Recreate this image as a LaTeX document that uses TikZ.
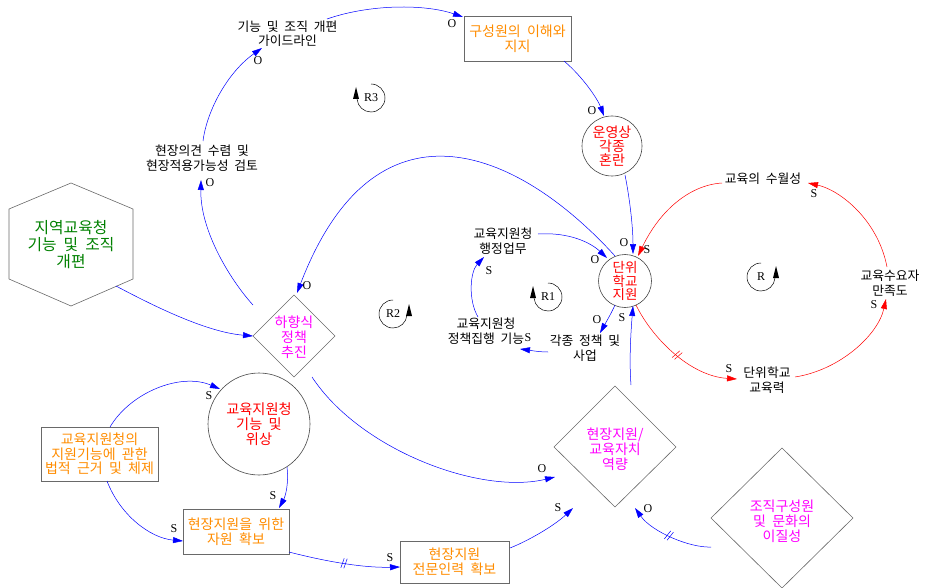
\documentclass[tikz,border=0pt]{standalone}
\usepackage{fontspec}
\setmainfont{Liberation Serif}
\newfontfamily\kr[WordSpace=2]{Noto Sans CJK KR}
\usetikzlibrary{arrows.meta,calc,decorations.markings}
\definecolor{korange}{RGB}{255,140,0}
\definecolor{kmag}{RGB}{255,0,255}
\definecolor{kgreen}{RGB}{0,128,0}
\definecolor{kred}{RGB}{255,0,0}
\definecolor{kblue}{RGB}{0,0,255}
\definecolor{kgray}{RGB}{105,105,105}
\definecolor{kdgray}{RGB}{70,70,70}
\begin{document}
\begin{tikzpicture}[x=1pt,y=-1pt,
  txt/.style={align=center,inner sep=1pt,font=\kr\fontsize{12.8}{14.5}\selectfont},
  ctxt/.style={align=center,inner sep=1pt,font=\kr\fontsize{14}{15}\selectfont},
  boxn/.style={ctxt,text=korange,draw=kgray,line width=0.6pt},
  circn/.style={ctxt,circle,draw=kdgray,line width=0.6pt,inner sep=0pt},
  shapeline/.style={draw=kgray,line width=0.6pt},
  bl/.style={draw=kblue,line width=0.5pt,-{Triangle[length=10pt,width=6pt]}},
  rd/.style={draw=kred,line width=0.5pt,-{Triangle[length=10pt,width=6pt]}},
  hash/.style={postaction={decorate,decoration={markings,mark=at position 0.5 with {\draw[-,#1,line width=0.5pt] (-2.5pt,-5pt)--(-0.5pt,5pt) (0.5pt,-5pt)--(2.5pt,5pt);}}}},
  pol/.style={inner sep=0pt,font=\fontsize{12}{12}\selectfont},
  rtxt/.style={inner sep=0pt,font=\fontsize{12}{12}\selectfont},
  loopc/.style={draw=black,line width=0.5pt},
  looptip/.style={fill=black}
]
\useasboundingbox (0,0) rectangle (925,588);

% ---- nodes ----
\node[align=center,inner sep=1pt,font=\kr\fontsize{15.8}{17}\selectfont,text=kgreen] (hex) at (71,245) {지역교육청\\기능 및 조직\\개편};
\draw[shapeline] ($(hex)+(0,-62)$) -- ($(hex)+(62,-36)$) -- ($(hex)+(62,34)$) -- ($(hex)+(0,61)$) -- ($(hex)+(-62,34)$) -- ($(hex)+(-62,-36)$) -- cycle;

\node[ctxt,text=kmag] (hxs) at (294,337) {하향식\\정책\\추진};
\draw[shapeline] ($(hxs)+(0,-42)$) -- ($(hxs)+(41,-1)$) -- ($(hxs)+(0,40)$) -- ($(hxs)+(-41,-1)$) -- cycle;

\node[ctxt,text=kmag] (cap) at (615,449) {현장지원/\\교육자치\\역량};
\draw[shapeline] ($(cap)+(0,-63)$) -- ($(cap)+(61,-2)$) -- ($(cap)+(0,58)$) -- ($(cap)+(-61,-2)$) -- cycle;

\node[ctxt,text=kmag] (ijs) at (782,521) {조직구성원\\및 문화의\\이질성};
\draw[shapeline] ($(ijs)+(0,-73)$) -- ($(ijs)+(71,-3)$) -- ($(ijs)+(0,67)$) -- ($(ijs)+(-71,-3)$) -- cycle;

\node[txt] (hjy) at (202,158) {현장의견 수렴 및\\현장적용가능성 검토};
\node[txt] (gdl) at (287.5,33.5) {기능 및 조직 개편\\가이드라인};
\node[boxn,minimum width=107,minimum height=45] (gsw) at (517.5,38.5) {구성원의 이해와\\지지};
\node[circn,minimum size=60,text=kred,font=\kr\fontsize{14}{14}\selectfont] (uys) at (612,146) {운영상\\각종\\혼란};
\node[circn,minimum size=53,text=kred,font=\kr\fontsize{13.5}{13.3}\selectfont] (dws) at (625,281) {단위\\학교\\지원};
\node[txt] (sws) at (763,179) {교육의 수월성};
\node[txt] (mjd) at (890,283) {교육수요자\\만족도};
\node[txt] (gyr) at (767,380) {단위학교\\교육력};
\node[txt] (hjg) at (503,241) {교육지원청\\행정업무};
\node[txt] (jjh) at (486,331) {교육지원청\\정책집행 기능};
\node[txt] (gjs) at (585,348) {각종 정책 및\\사업};
\node[circn,minimum size=102,text=kred,font=\kr\fontsize{14.2}{15}\selectfont] (gwj) at (259,424) {교육지원청\\기능 및\\위상};
\node[boxn,minimum width=117,minimum height=54,font=\kr\fontsize{14}{14.5}\selectfont] (bjg) at (99.5,454) {교육지원청의\\지원기능에 관한\\법적 근거 및 체제};
\node[boxn,minimum width=106,minimum height=45] (jws) at (236,531.5) {현장지원을 위한\\자원 확보};
\node[boxn,minimum width=109,minimum height=42] (jmi) at (454.5,562) {현장지원\\전문인력 확보};

% ---- loop symbols ----
\node[rtxt] (r3) at (371,98) {R3};
\draw[loopc] ($(r3)+(270:14)$) arc[start angle=270,end angle=535,radius=14];
\fill[looptip] ($(r3)+(-15,-11)$) -- ($(r3)+(-18,1)$) -- ($(r3)+(-12,1)$) -- cycle;
\node[rtxt] (r1) at (548,297) {R1};
\draw[loopc] ($(r1)+(270:14)$) arc[start angle=270,end angle=535,radius=14];
\fill[looptip] ($(r1)+(-15,-11)$) -- ($(r1)+(-18,1)$) -- ($(r1)+(-12,1)$) -- cycle;
\node[rtxt] (r2) at (393,314) {R2};
\draw[loopc] ($(r2)+(270:14)$) arc[start angle=270,end angle=5,radius=14];
\fill[looptip] ($(r2)+(16,-10)$) -- ($(r2)+(13,2)$) -- ($(r2)+(19,2)$) -- cycle;
\node[rtxt] (rr) at (761,277) {R};
\draw[loopc] ($(rr)+(270:14)$) arc[start angle=270,end angle=5,radius=14];
\fill[looptip] ($(rr)+(15,-11)$) -- ($(rr)+(12,1)$) -- ($(rr)+(18,1)$) -- cycle;

% ---- connectors ----
\draw[bl] ($(hex)+(45,41)$) .. controls (150,304) and (205,332) .. ($(hxs)+(-41,-1)$);
\draw[bl] ($(hxs)+(-41,-32)$) .. controls (232,282) and (200,232) .. ($(hjy)+(-1,22)$);
\draw[bl] ($(hjy)+(1,-17)$) .. controls (207,110) and (228,72) .. ($(gdl)+(-25.5,14.5)$);
\draw[bl] ($(gdl)+(39.5,-14.5)$) .. controls (370,4) and (425,4) .. ($(gsw)+(-54.5,-21.5)$);
\draw[bl] ($(gsw)+(46.5,22.5)$) .. controls (584,78) and (598,100) .. ($(uys)+(-8,-30)$);
\draw[bl] ($(uys)+(13,29)$) .. controls (630,200) and (633,228) .. ($(dws)+(8,-27)$);
\draw[rd] ($(sws)+(-41,4)$) .. controls (690,185) and (660,210) .. ($(dws)+(13,-25)$);
\draw[rd,hash=kred] ($(dws)+(11,24)$) .. controls (652,338) and (690,376) .. ($(gyr)+(-30,-1)$);
\draw[rd] ($(gyr)+(28,-3)$) .. controls (840,370) and (878,335) .. ($(mjd)+(-4,16)$);
\draw[rd] ($(mjd)+(-3,-16)$) .. controls (878,220) and (840,190) .. ($(sws)+(45,4)$);
\draw[bl] ($(hjg)+(35,-7)$) .. controls (568,232) and (590,242) .. ($(dws)+(-18,-23)$);
\draw[bl] ($(dws)+(-10,24)$) .. controls (611,314) and (605,324) .. ($(gjs)+(15,-15)$);
\draw[bl] ($(gjs)+(-37,4)$) .. controls (538,352) and (528,350) .. ($(jjh)+(34,18)$);
\draw[bl] ($(jjh)+(-8,-14)$) .. controls (468,300) and (470,272) .. ($(hjg)+(-19,16)$);
\draw[bl] ($(dws)+(-10,-25)$) .. controls (514,145) and (374,92) .. ($(hxs)+(3,-44)$);
\draw[bl] ($(hxs)+(18,40)$) .. controls (360,450) and (480,495) .. ($(cap)+(-60,28)$);
\draw[bl] ($(cap)+(16,-64)$) .. controls (629,360) and (631,330) .. ($(dws)+(8,25)$);
\draw[bl] ($(bjg)+(10.5,-27)$) .. controls (130,393) and (180,372) .. ($(gwj)+(-39,-35)$);
\draw[bl] ($(bjg)+(7.5,27)$) .. controls (120,515) and (150,538) .. ($(jws)+(-53,9.5)$);
\draw[bl] ($(gwj)+(28,43)$) .. controls (289,485) and (285,497) .. ($(jws)+(43,-23.5)$);
\draw[bl,hash=kblue] ($(jws)+(53,20.5)$) .. controls (320,560) and (360,568) .. ($(jmi)+(-54.5,5)$);
\draw[bl] ($(jmi)+(55.5,-14)$) .. controls (530,540) and (555,525) .. ($(cap)+(-42,59)$);
\draw[bl,hash=kblue] ($(ijs)+(-71,26)$) .. controls (690,548) and (652,532) .. ($(cap)+(20,59)$);

% ---- polarity labels ----
\node[pol] (p2) at (210,183) {O};
\node[pol] (p3) at (258,61) {O};
\node[pol] (p4) at (452,24) {O};
\node[pol] (p5) at (592,111) {O};
\node[pol] (p6) at (624,243) {O};
\node[pol] (p7) at (647,250) {S};
\node[pol] (p8) at (729,369) {S};
\node[pol] (p9) at (874,305) {S};
\node[pol] (p10) at (814,194) {S};
\node[pol] (p11) at (595,260) {O};
\node[pol] (p12) at (597,320) {O};
\node[pol] (p13) at (528,338) {S};
\node[pol] (p14) at (489,271) {S};
\node[pol] (p15) at (307,286) {O};
\node[pol] (p16) at (542,469) {O};
\node[pol] (p17) at (622,318) {S};
\node[pol] (p18) at (209,396) {S};
\node[pol] (p19) at (174,529) {S};
\node[pol] (p20) at (273,496) {S};
\node[pol] (p21) at (390,558) {S};
\node[pol] (p22) at (558,508) {S};
\node[pol] (p23) at (648,509) {O};
\end{tikzpicture}
\end{document}
